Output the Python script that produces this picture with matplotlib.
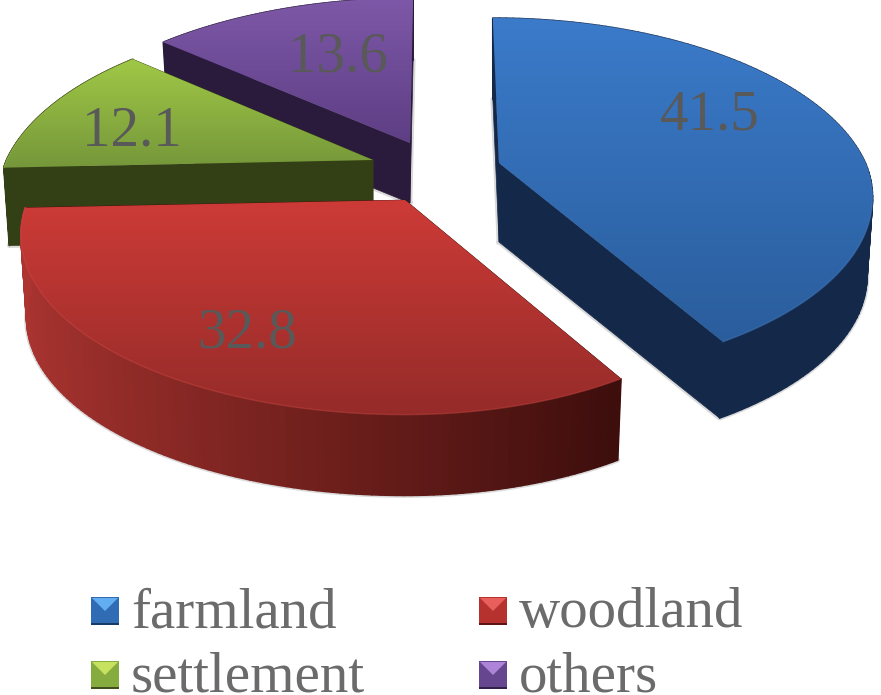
import numpy as np
import matplotlib.pyplot as plt
from matplotlib.collections import PolyCollection
from matplotlib.colors import LinearSegmentedColormap, to_rgb
from matplotlib.patches import Polygon

plt.rcParams['font.family'] = ['Liberation Serif', 'DejaVu Serif']

categories = ['farmland', 'woodland', 'settlement', 'others']
values = [41.5, 32.8, 12.1, 13.6]
value_labels = ['41.5', '32.8', '12.1', '13.6']

# where each slice apex sits on the canvas (exploded pie), in pixels
apex = [(499, 163), (405, 200), (373, 160), (410, 143)]
depths = [79, 84, 78, 60]
rx_scale = [(1.0, 0.985), (1.013, 0.95), (0.985, 1.0), (1.0, 1.0)]
label_pos = [(710, 116), (247, 333), (132, 131), (338, 58)]
top_colors = [('#3b7bca', '#2a5d9c'), ('#cd3b37', '#952b29'),
              ('#a0c846', '#75973a'), ('#7d58a8', '#5e3e84')]
rim_colors = [('#14294a', '#14294a'), ('#ad3531', '#3d0e0c'),
              ('#333f14', '#333f14'), ('#2a1a3c', '#2a1a3c')]
cut_colors = ['#14294a', '#3d0e0c', '#333f14', '#2a1a3c']
legend_colors = [('#62aef0', '#2f6cb4', '#173a66'), ('#e85f5b', '#b5322f', '#5e1614'),
                 ('#c6e25e', '#86ab3e', '#414f1a'), ('#ad84d8', '#66468f', '#33214d')]
legend_xy = [(91, 597), (479, 597), (91, 661), (479, 661)]

RX, RY, K = 372.0, 173.0, 0.194
VX = 440.0  # far side of every slice leans toward this x
LEAN = 0.65


def project(theta, cx, scale):
    # flat pie -> screen offset, far side is a bit smaller
    x = np.sin(theta)
    y = np.cos(theta)
    w = 1 + K * y
    sx = np.where(x < 0, scale[0], scale[1])
    lean = LEAN * (VX - cx) * np.maximum(1 - 1 / w, 0)
    return RX * x * sx / w + lean, -RY * y / w


def mix(c1, c2, t):
    return tuple((1 - t) * a + t * b for a, b in zip(to_rgb(c1), to_rgb(c2)))


fig = plt.figure(figsize=(8.81, 6.95), dpi=100)
ax = fig.add_axes([0, 0, 1, 1])

edges = np.radians(np.concatenate([[0], np.cumsum(values)]) / sum(values) * 360)
draw_order = [3, 2, 1, 0]

z = 1
for i in draw_order:
    th = np.linspace(edges[i], edges[i + 1], 120)
    cx, cy = apex[i]
    d = depths[i]
    dx, dy = project(th, cx, rx_scale[i])
    px, py = cx + dx, cy + dy
    # bottom ring pulled in slightly toward the centre
    bx, by = cx + dx * 0.985, cy + dy * 0.985 + d

    # soft shadow round the lower outline
    ax.plot(np.r_[cx, bx, cx], np.r_[cy + d, by, cy + d], color='#555555', lw=3.5, alpha=0.22, zorder=z)
    z += 1

    # cut faces
    for j in (0, -1):
        ax.add_patch(Polygon([(cx, cy), (px[j], py[j]), (bx[j], by[j]), (cx, cy + d)],
                             closed=True, fc=cut_colors[i], ec=cut_colors[i], lw=0.5, zorder=z))
    z += 1

    # rim, shaded from left to right
    quads = []
    cols = []
    for k in range(len(th) - 1):
        quads.append([(px[k], py[k]), (px[k + 1], py[k + 1]), (bx[k + 1], by[k + 1]), (bx[k], by[k])])
        t = np.clip((np.sin(th[k]) + 1) / 1.5, 0, 1)
        cols.append(mix(rim_colors[i][0], rim_colors[i][1], t))
    ax.add_collection(PolyCollection(quads, facecolors=cols, edgecolors=cols, linewidths=1.2, zorder=z))
    z += 1

    # top face with a vertical gradient
    poly = Polygon(np.vstack([[cx, cy], np.column_stack([px, py])]), closed=True,
                   transform=ax.transData, fc='none', ec='none', zorder=z)
    ax.add_patch(poly)
    cmap = LinearSegmentedColormap.from_list('top', top_colors[i])
    grad = np.linspace(0, 1, 256).reshape(-1, 1)
    ytop, ybot = min(py.min(), cy), max(py.max(), cy)
    im = ax.imshow(grad, cmap=cmap, aspect='auto', zorder=z,
                   extent=[min(px.min(), cx), max(px.max(), cx), ybot, ytop])
    im.set_clip_path(poly)
    z += 1

    # light bevel along the outer edge
    ax.plot(px, py, color=mix(top_colors[i][0], '#ffffff', 0.08), lw=1.0, alpha=0.4, zorder=z)
    z += 1

for (x, y), s in zip(label_pos, value_labels):
    ax.text(x, y, s, fontsize=41, color='#595959', ha='center', va='center', zorder=z)

# legend, bevelled squares like the office 3d markers
size = 28
for (x, y), name, (hi, mid, lo) in zip(legend_xy, categories, legend_colors):
    c = (x + size / 2, y + size / 2)
    ax.add_patch(Polygon([(x, y), (x + size, y), (x + size, y + size), (x, y + size)],
                         fc=mid, ec='none', zorder=z))
    ax.add_patch(Polygon([(x + 1, y + 1), (x + size - 1, y + 1), c], fc=hi, ec='none', zorder=z))
    ax.add_patch(Polygon([(x, y + size - 2), (x + size, y + size - 2), (x + size, y + size), (x, y + size)],
                         fc=lo, ec='none', zorder=z))
    ax.text(x + 40, y + 30, name, fontsize=41, color='#6b6b6b', ha='left', va='baseline', zorder=z)

ax.set_xlim(0, 881)
ax.set_ylim(695, 0)
ax.axis('off')

plt.savefig('out.png', dpi=100)
